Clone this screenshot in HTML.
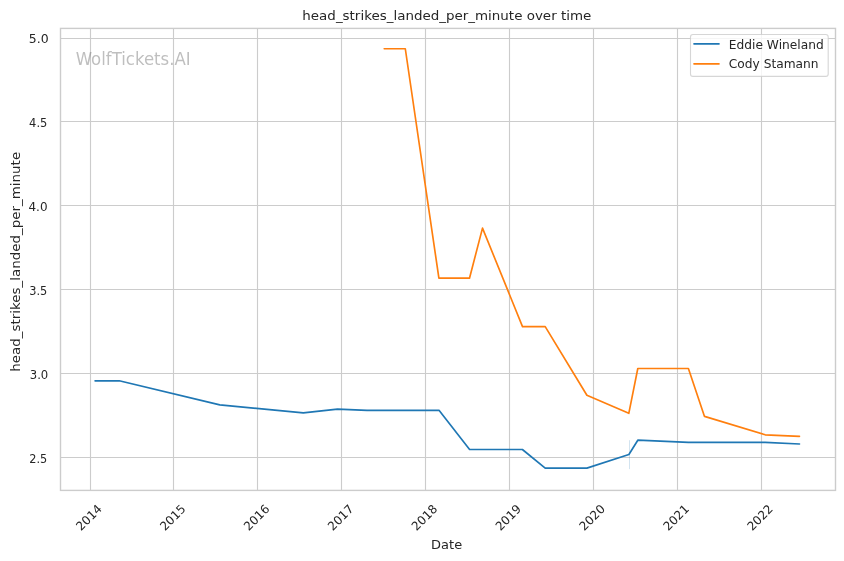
<!DOCTYPE html>
<html lang="en"><head><meta charset="utf-8"><title>head_strikes_landed_per_minute over time</title>
<style>
html,body{margin:0;padding:0;background:#fff;}
body{width:844px;height:561px;overflow:hidden;}
svg{display:block;}
text{font-family:"DejaVu Sans","Liberation Sans",sans-serif;fill:#262626;}
.tick{font-size:12.22px;}
.lab{font-size:13.33px;}
</style></head><body>
<svg width="844" height="561" viewBox="0 0 844 561">
<rect width="844" height="561" fill="#ffffff"/>

<g stroke="#cccccc" stroke-width="1.11" fill="none">
<line x1="90.5" y1="28.4" x2="90.5" y2="490.4"/>
<line x1="173.5" y1="28.4" x2="173.5" y2="490.4"/>
<line x1="257.5" y1="28.4" x2="257.5" y2="490.4"/>
<line x1="341.5" y1="28.4" x2="341.5" y2="490.4"/>
<line x1="425.5" y1="28.4" x2="425.5" y2="490.4"/>
<line x1="509.5" y1="28.4" x2="509.5" y2="490.4"/>
<line x1="593.5" y1="28.4" x2="593.5" y2="490.4"/>
<line x1="677.5" y1="28.4" x2="677.5" y2="490.4"/>
<line x1="761.5" y1="28.4" x2="761.5" y2="490.4"/>
<line x1="60.5" y1="38.5" x2="835.5" y2="38.5"/>
<line x1="60.5" y1="121.5" x2="835.5" y2="121.5"/>
<line x1="60.5" y1="205.5" x2="835.5" y2="205.5"/>
<line x1="60.5" y1="289.5" x2="835.5" y2="289.5"/>
<line x1="60.5" y1="373.5" x2="835.5" y2="373.5"/>
<line x1="60.5" y1="457.5" x2="835.5" y2="457.5"/>
</g>
<rect x="629.0" y="440.2" width="0.9" height="28.9" fill="#1f77b4" opacity="0.22"/>
<polyline points="95.1,380.8 119.2,380.8 219.8,404.9 303.3,412.9 337.5,409.2 367,410.3 439,410.3 469.6,449.5 522.4,449.5 545.2,468.1 586.9,468.1 628.9,454.5 637.8,440.2 688.4,442.4 765.2,442.4 799.5,444.0" fill="none" stroke="#1f77b4" stroke-width="1.67" stroke-linecap="round" stroke-linejoin="round"/>
<polyline points="384.2,48.75 405.3,48.75 438.9,278.2 469.5,278.2 482.5,228.1 522.5,326.6 545.2,326.6 586.9,395.2 628.8,413.3 637.8,368.5 688.4,368.5 704.5,416.4 765.2,434.8 799.5,436.3" fill="none" stroke="#ff7f0e" stroke-width="1.67" stroke-linecap="round" stroke-linejoin="round"/>
<rect x="60.5" y="28.4" width="775.0" height="462.0" fill="none" stroke="#cccccc" stroke-width="1.39"/>
<text transform="translate(75.7,64.7) scale(0.993,1.09)" font-size="16.67" style="fill:#808080" opacity="0.5">WolfTickets.AI</text>
<text class="tick" transform="translate(48.56,42.95) scale(1.02,1)" text-anchor="end">5.0</text>
<text class="tick" transform="translate(47.33,126.95) scale(0.94,1)" text-anchor="end">4.5</text>
<text class="tick" transform="translate(47.52,210.95) scale(0.98,1)" text-anchor="end">4.0</text>
<text class="tick" transform="translate(47.22,294.95) scale(0.93,1)" text-anchor="end">3.5</text>
<text class="tick" transform="translate(48.30,378.95) scale(0.955,1)" text-anchor="end">3.0</text>
<text class="tick" transform="translate(47.21,462.95) scale(0.925,1)" text-anchor="end">2.5</text>
<text class="tick" transform="translate(88.80,517.4) rotate(-45) scale(0.98)" x="0" y="4.45" text-anchor="middle">2014</text>
<text class="tick" transform="translate(172.62,517.4) rotate(-45) scale(0.98)" x="0" y="4.45" text-anchor="middle">2015</text>
<text class="tick" transform="translate(256.44,517.4) rotate(-45) scale(0.98)" x="0" y="4.45" text-anchor="middle">2016</text>
<text class="tick" transform="translate(340.49,517.4) rotate(-45) scale(0.98)" x="0" y="4.45" text-anchor="middle">2017</text>
<text class="tick" transform="translate(424.30,517.4) rotate(-45) scale(0.98)" x="0" y="4.45" text-anchor="middle">2018</text>
<text class="tick" transform="translate(508.12,517.4) rotate(-45) scale(0.98)" x="0" y="4.45" text-anchor="middle">2019</text>
<text class="tick" transform="translate(591.94,517.4) rotate(-45) scale(0.98)" x="0" y="4.45" text-anchor="middle">2020</text>
<text class="tick" transform="translate(675.99,517.4) rotate(-45) scale(0.98)" x="0" y="4.45" text-anchor="middle">2021</text>
<text class="tick" transform="translate(759.81,517.4) rotate(-45) scale(0.98)" x="0" y="4.45" text-anchor="middle">2022</text>
<text class="lab" transform="translate(446.8,19.8) scale(1.01,0.95)" text-anchor="middle">head_strikes_landed_per_minute over time</text>
<text class="lab" transform="translate(446.6,548.7) scale(0.975,0.95)" text-anchor="middle">Date</text>
<text class="lab" transform="translate(20.0,261.8) rotate(-90) scale(1.008,0.95)" text-anchor="middle">head_strikes_landed_per_minute</text>
<rect x="690.5" y="34.5" width="137.7" height="41.9" rx="2.4" ry="2.4" fill="#ffffff" fill-opacity="0.8" stroke="#cccccc" stroke-opacity="0.8" stroke-width="1.11"/>
<line x1="694" y1="43.95" x2="719" y2="43.95" stroke="#1f77b4" stroke-width="1.67" stroke-linecap="round"/>
<line x1="694" y1="63.95" x2="719" y2="63.95" stroke="#ff7f0e" stroke-width="1.67" stroke-linecap="round"/>
<text class="tick" x="728.8" y="48.9">Eddie Wineland</text>
<text class="tick" x="728.8" y="67.7">Cody Stamann</text>
</svg></body></html>
